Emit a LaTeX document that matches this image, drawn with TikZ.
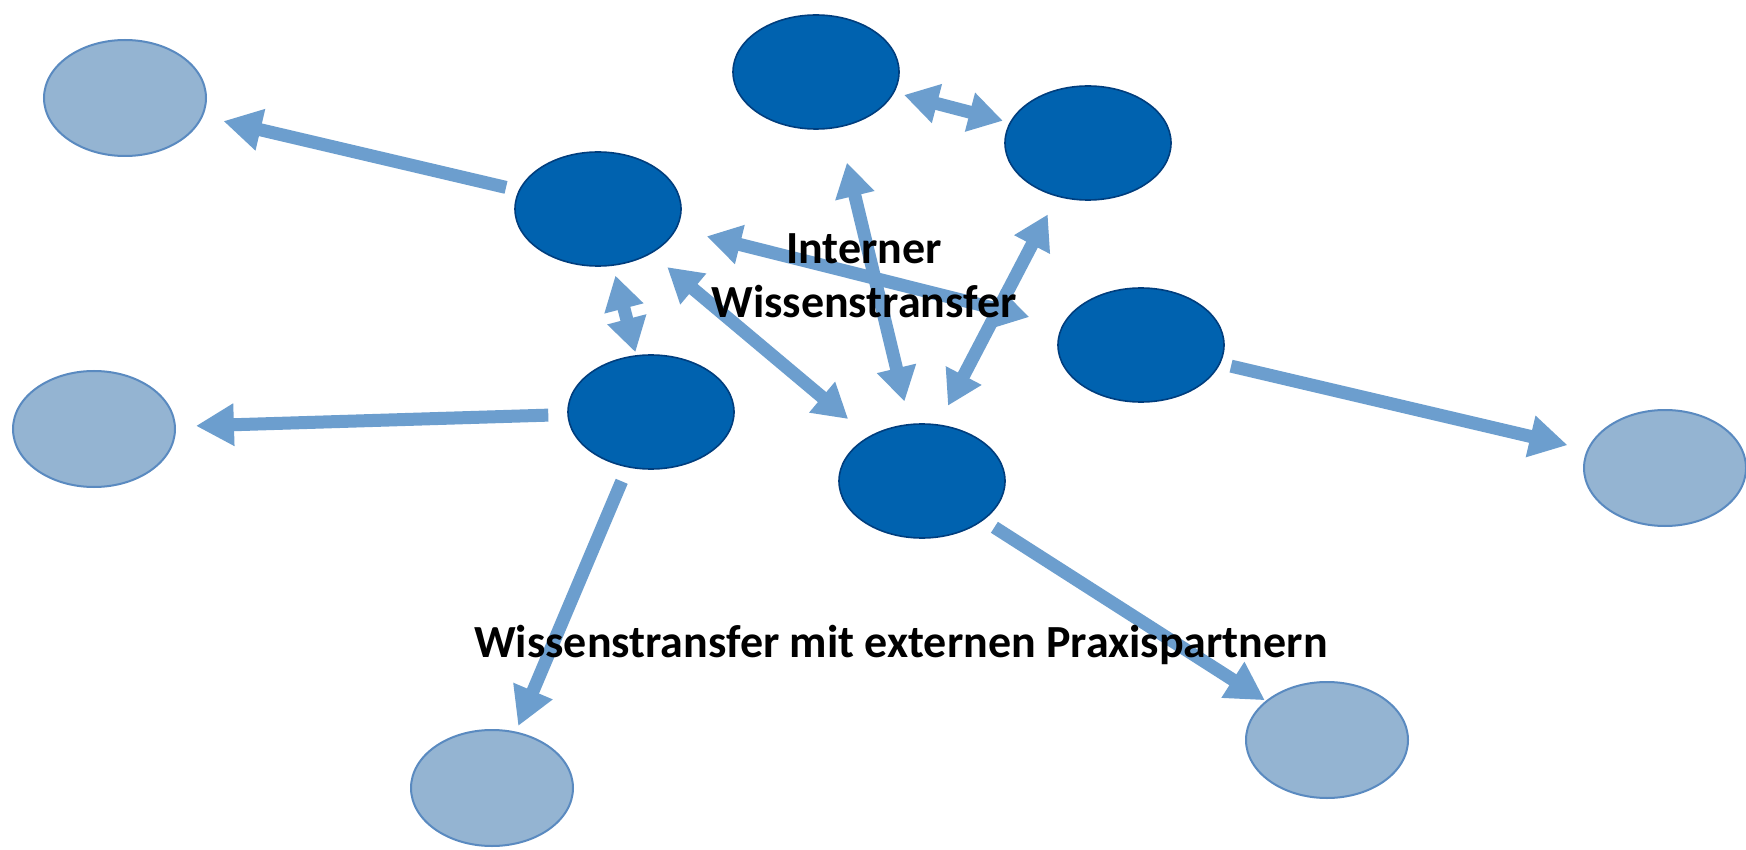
\documentclass[tikz,border=0pt]{standalone}
\usepackage{fontspec}
\setmainfont{Carlito}
\usetikzlibrary{shapes.geometric,arrows.meta}
\definecolor{darkfill}{RGB}{0,98,175}
\definecolor{darkedge}{RGB}{0,62,126}
\definecolor{lightfill}{RGB}{148,180,210}
\definecolor{lightedge}{RGB}{90,138,192}
\definecolor{arrowblue}{RGB}{108,158,206}
\tikzset{
  inner/.style={ellipse, fill=darkfill, draw=darkedge, line width=0.8pt, minimum width=83pt, minimum height=57pt, inner sep=0pt},
  outer/.style={ellipse, fill=lightfill, draw=lightedge, line width=1pt, minimum width=81pt, minimum height=58pt, inner sep=0pt},
  link/.style={draw=arrowblue, line width=6.5pt, -{Triangle[length=19pt,width=20pt]}},
  twoway/.style={draw=arrowblue, line width=6.5pt, {Triangle[length=17pt,width=19pt]}-{Triangle[length=17pt,width=19pt]}},
  label/.style={font=\bfseries\fontsize{23}{27}\selectfont, text=black, align=center}
}
\begin{document}
\begin{tikzpicture}[x=0.5pt,y=-0.5pt]
\fill[white] (0,0) rectangle (1746,850);
\useasboundingbox (0,0) rectangle (1746,850);
% inner nodes
\node[inner] (d1) at (816,72) {};
\node[inner] (d2) at (1088,143) {};
\node[inner] (d3) at (598,209) {};
\node[inner] (d4) at (1141,345) {};
\node[inner] (d5) at (651,412) {};
\node[inner] (d6) at (922,481) {};
% outer nodes
\node[outer] (L1) at (125,98) {};
\node[outer] (L2) at (94,429) {};
\node[outer] (L3) at (1665,468) {};
\node[outer] (L4) at (492,788) {};
\node[outer] (L5) at (1327,740) {};
% external arrows
\draw[link, shorten <=6.5pt, shorten >=10.5pt] (d3) -- (L1);
\draw[link, shorten <=9.5pt, shorten >=10pt] (d5) -- (L2);
\draw[link, shorten <=7.5pt, shorten >=3pt] (d5) -- (L4);
\draw[link, shorten <=5.5pt, shorten >=10pt] (d4) -- (L3);
\draw[link, shorten <=6.5pt, shorten >=0.5pt] (d6) -- (L5);
% internal arrows
\draw[twoway, shorten <=5pt, shorten >=3.5pt] (d1) -- (d2);
\draw[twoway, shorten <=5pt, shorten >=1.5pt] (d3) -- (d5);
\draw[twoway, shorten <=10.5pt, shorten >=13.5pt] (d3) -- (d6);
\draw[twoway, shorten <=18pt, shorten >=11.5pt] (d1.-68.7) -- (d6.102.7);
\draw[twoway, shorten <=10pt, shorten >=10.5pt] (d2.-120.7) -- (d6.74.1);
\draw[twoway, shorten <=15.5pt, shorten >=17pt] (d3) -- (d4);
% labels
\node[label] (intern) at (864,276) {Interner\\Wissenstransfer};
\node[label, anchor=base] (extern) at (901,657) {Wissenstransfer mit externen Praxispartnern};
\end{tikzpicture}
\end{document}
